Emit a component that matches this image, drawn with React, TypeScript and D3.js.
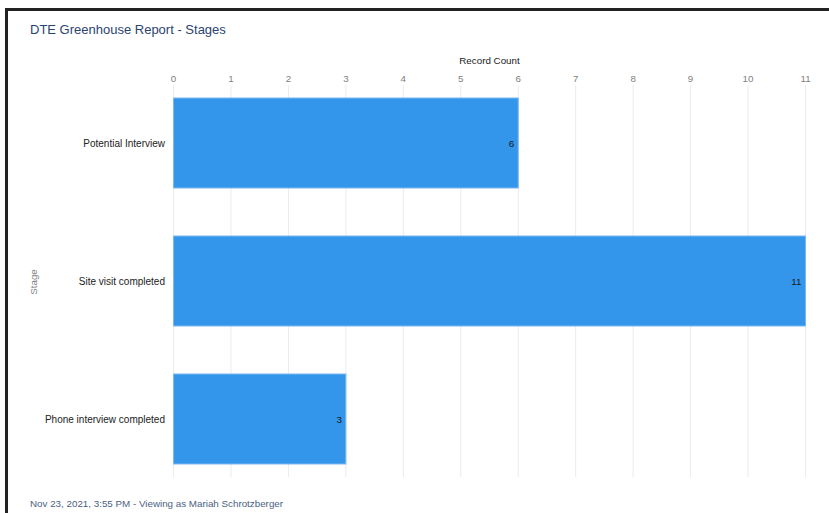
import React from "react";
import * as d3 from "d3";

const categories = ["Potential Interview", "Site visit completed", "Phone interview completed"];
const counts = [6, 11, 3];
const ticks = [0, 1, 2, 3, 4, 5, 6, 7, 8, 9, 10, 11];

const W = 829;
const H = 513;

export default function App() {
  const x = d3.scaleLinear().domain([0, 11]).range([173.5, 805.5]);
  const y = d3
    .scaleBand<string>()
    .domain(categories)
    .range([74, 488])
    .paddingInner(0.348)
    .paddingOuter(0.174);
  const font = "'Liberation Sans', Helvetica, Arial, sans-serif";
  return (
    <svg
      width={W}
      height={H}
      style={{ position: "absolute", left: 0, top: 0, background: "#fff" }}
      fontFamily={font}
    >
      <rect x={0} y={0} width={W} height={H} fill="#fff" />
      <path d={`M6.5,${H} V9.5 H${W}`} fill="none" stroke="#222" strokeWidth={3} />
      <text x={30} y={34} fontSize={13} fill="#2a4470">
        DTE Greenhouse Report - Stages
      </text>
      <text x={(x(0) + x(11)) / 2} y={64} fontSize={9.8} fill="#222" textAnchor="middle">
        Record Count
      </text>
      {ticks.map((t) => (
        <g key={t}>
          <line x1={x(t)} x2={x(t)} y1={85} y2={477} stroke="#e8ebef" strokeWidth={1} />
          <text x={x(t)} y={82} fontSize={9.8} fill="#808080" textAnchor="middle">
            {t}
          </text>
        </g>
      ))}
      {categories.map((c, i) => {
        const y0 = y(c)!;
        const bw = y.bandwidth();
        return (
          <g key={c}>
            <rect
              x={x(0)}
              y={y0}
              width={x(counts[i]) - x(0)}
              height={bw}
              fill="#3396eb"
              stroke="#7ab8f2"
              strokeWidth={1}
            />
            <text x={x(counts[i]) - 4} y={y0 + bw / 2 + 3.5} fontSize={9.8} fill="#1a1a1a" textAnchor="end">
              {counts[i]}
            </text>
            <text x={165} y={y0 + bw / 2 + 3.5} fontSize={10} fill="#222" textAnchor="end">
              {c}
            </text>
          </g>
        );
      })}
      <text
        transform={`translate(37,${(y.range()[0] + y.range()[1]) / 2 + 1}) rotate(-90)`}
        fontSize={9.8}
        fill="#808080"
        textAnchor="middle"
      >
        Stage
      </text>
      <text x={30} y={507} fontSize={9.8} fill="#4a5f85">
        Nov 23, 2021, 3:55 PM - Viewing as Mariah Schrotzberger
      </text>
    </svg>
  );
}
